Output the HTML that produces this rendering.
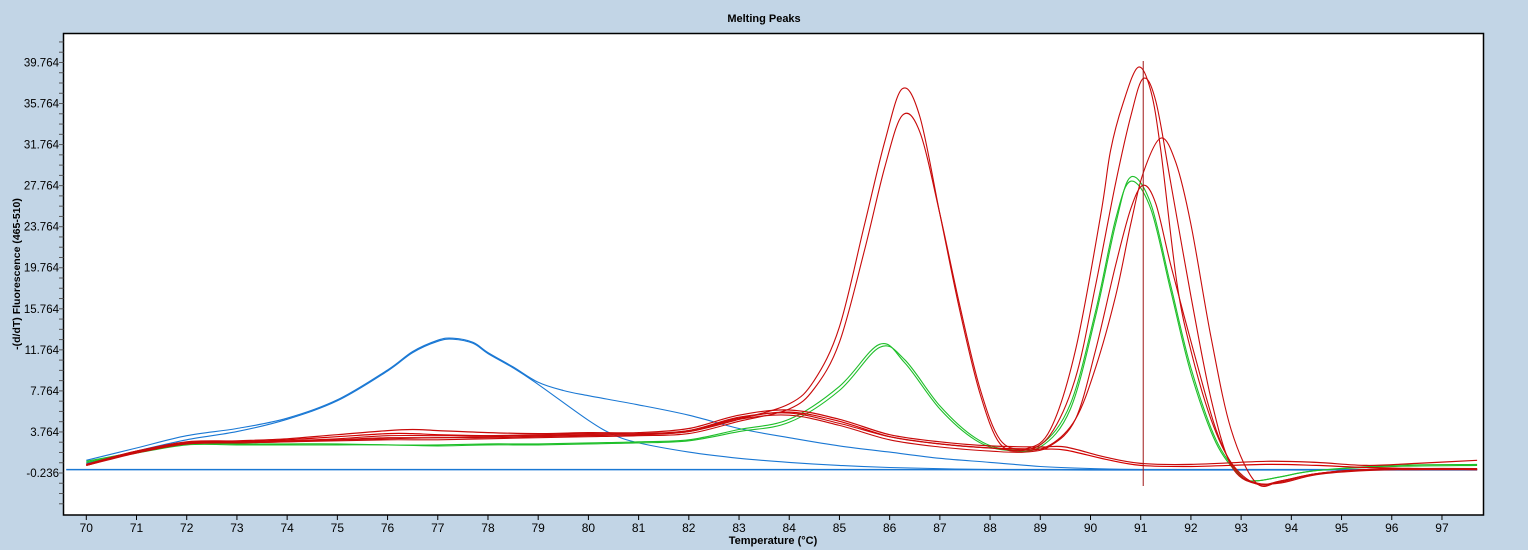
<!DOCTYPE html>
<html><head><meta charset="utf-8">
<style>
html,body{margin:0;padding:0;background:#c2d5e6;}
svg{display:block;font-family:"Liberation Sans",sans-serif;}
</style></head>
<body>
<svg id="chart" width="1528" height="550" viewBox="0 0 1528 550">
<rect x="0" y="0" width="1528" height="550" fill="#c2d5e6"/>
<text x="764" y="22" text-anchor="middle" font-size="11" font-weight="bold">Melting Peaks</text>
<rect x="63.5" y="33.5" width="1420" height="481.5" fill="#fff" stroke="#000" stroke-width="1.5"/>
<g id="ticks"></g>
<g id="series"></g>
<text x="773" y="544" text-anchor="middle" font-size="11" font-weight="bold">Temperature (°C)</text>
<text transform="translate(20,274) rotate(-90)" text-anchor="middle" font-size="10.5" font-weight="bold">-(d/dT) Fluorescence (465-510)</text>
</svg>
<script>
const xTicks=[70,71,72,73,74,75,76,77,78,79,80,81,82,83,84,85,86,87,88,89,90,91,92,93,94,95,96,97];
const yTicks=[-0.236,3.764,7.764,11.764,15.764,19.764,23.764,27.764,31.764,35.764,39.764];
const cursorT=91.05;

const tR1=[70,71,72,73,74,75,76,77,78,79,80,81,82,83,84,84.5,85,85.5,85.9,86.25,86.6,87,87.4,87.8,88.2,88.7,89.2,89.7,90.1,90.5,90.8,91.05,91.3,91.6,92,92.4,92.8,93.3,93.8,94.5,95.5,96.5,97.7];
const vR1=[0.6,1.8,2.7,2.8,2.9,3.0,3.1,3.2,3.2,3.3,3.4,3.5,3.8,5.0,6.5,8.8,14,24,32,37.2,34.5,25,15.5,7.5,2.6,2.0,3.5,9,18,28,34.5,38.2,36,28,17,7,0.5,-1.3,-1.0,-0.3,0.1,0.2,0.2];
const tR2=[70,71,72,73,74,75,76,77,78,79,80,81,82,83,84,84.5,85,85.5,85.9,86.25,86.6,87,87.4,87.8,88.2,88.7,89.2,89.7,90.1,90.5,90.8,91.05,91.4,91.7,92,92.4,92.8,93.3,93.8,94.5,95.5,96.5,97.7];
const vR2=[0.5,1.7,2.6,2.7,2.8,2.9,3.0,3.0,3.1,3.2,3.3,3.4,3.6,4.8,6.0,8.0,12.5,21.5,29.5,34.6,33,25,16,8,3,2.0,2.5,5,10,17,24,29,32.4,30,24,13,4,-1.2,-1.0,-0.3,0.1,0.1,0.2];
const tR3=[70,71,72,73,74,75,76,77,78,79,80,81,82,83,84,85,86,87,88,88.7,89.2,89.7,90.2,90.4,90.65,90.95,91.2,91.4,91.72,92.0,92.4,92.8,93.3,93.8,94.5,95.5,96.5,97.7];
const vR3=[0.6,1.9,2.7,2.8,2.9,3.1,3.4,3.4,3.4,3.5,3.6,3.6,3.9,5.2,5.6,4.6,3.3,2.6,2.2,2.1,4,11.7,24.8,31.2,35.8,39.3,37,31.2,18.3,11.7,5,0.8,-1.3,-1.1,-0.3,0.1,0.1,0.1];
const tR4=[70,71,72,73,74,75,76,77,78,79,80,81,82,83,84,85,86,87,88,88.7,89.2,89.7,90.1,90.5,90.8,91.05,91.3,91.6,92.05,92.5,92.9,93.3,93.8,94.5,95.5,96.5,97.7];
const vR4=[0.5,1.8,2.6,2.7,2.8,3.0,3.2,3.2,3.3,3.4,3.5,3.5,3.8,5.0,5.4,4.4,3.0,2.3,1.9,1.8,2.4,5,11.7,20,25.5,27.8,26,20,11.7,4,0,-1.2,-1.2,-0.4,0.0,0.1,0.1];
const tR5=[70,71,72,73,74,75,76,76.5,77,78,79,80,81,82,83,84,85,86,87,88,89,89.5,90.3,91,92,93.5,94.5,95.5,96.5,97.7];
const vR5=[0.6,1.9,2.8,2.9,3.1,3.5,3.9,4.0,3.9,3.7,3.6,3.7,3.7,4.1,5.4,5.9,5.0,3.5,2.8,2.4,2.3,2.3,1.3,0.7,0.6,0.9,0.8,0.5,0.7,1.0];
const tR6=[70,71,72,73,74,75,76,76.5,77,78,79,80,81,82,83,84,85,86,87,88,89,89.5,90.3,91,92,93.5,94.5,95.5,96.5,97.7];
const vR6=[0.5,1.8,2.7,2.8,3.0,3.3,3.6,3.6,3.5,3.4,3.4,3.5,3.5,3.9,5.1,5.7,4.8,3.3,2.6,2.2,2.1,2.0,1.1,0.5,0.4,0.6,0.5,0.3,0.2,0.1];
const tG1=[70,71,72,73,74,75,76,77,78,79,80,81,82,83,84,85,85.8,86.3,87,87.7,88.3,89,89.6,90.1,90.5,90.8,91.2,91.6,92,92.5,93,93.3,93.8,94.5,96,97.7];
const vG1=[0.9,1.8,2.6,2.6,2.6,2.6,2.5,2.5,2.6,2.6,2.7,2.8,3.0,4.0,5.0,8.2,12.3,10.5,6,3,2.0,2.3,6,15,24,28.6,26,18,10,3,-0.5,-1.0,-0.6,0.0,0.5,0.6];
const tG2=[70,71,72,73,74,75,76,77,78,79,80,81,82,83,84,85,85.8,86.3,87,87.7,88.3,89,89.6,90.1,90.5,90.8,91.2,91.6,92,92.5,93,93.3,93.8,94.5,96,97.7];
const vG2=[0.8,1.7,2.5,2.5,2.5,2.5,2.5,2.4,2.5,2.5,2.6,2.7,2.9,3.8,4.7,7.8,12.0,10.8,6.3,3.2,2.1,2.5,6.5,15.5,24.5,28.2,25.5,17.5,9.5,2.7,-0.6,-1.0,-0.6,0.0,0.4,0.5];
const tB1=[70,71,72,73,74,75,76,76.5,77,77.3,77.7,78,78.5,79,79.5,80,81,82,83,84,85,86,87,88,89,90,91,93,95,97.7];
const vB1=[1.0,2.2,3.4,4.1,5.1,6.9,9.8,11.6,12.7,12.9,12.5,11.5,10.1,8.6,7.8,7.3,6.4,5.4,4.1,3.2,2.4,1.8,1.2,0.8,0.4,0.2,0.1,0.1,0.1,0.1];
const tB2=[70,71,72,73,74,75,76,76.5,77,77.3,77.7,78,78.5,79,80,80.5,81,82,83,84,85,86,88,90,93,97.7];
const vB2=[0.7,1.9,3.0,3.8,5.0,6.8,9.7,11.5,12.6,12.8,12.4,11.4,10.0,8.4,4.9,3.5,2.7,1.8,1.2,0.8,0.5,0.3,0.1,0.05,0.05,0.05];
const tFlat=[69.6,97.7];
const vFlat=[0.1,0.1];

const X0=86.3, XS=50.21, Y0=473, YS=10.263;
function xScale(t){return X0+(t-70)*XS;}
function yScale(v){return Y0-(v+0.236)*YS;}
const NS='http://www.w3.org/2000/svg';

const tg=document.getElementById('ticks');
xTicks.forEach(t=>{
  const x=xScale(t);
  const l=document.createElementNS(NS,'line');
  l.setAttribute('x1',x);l.setAttribute('x2',x);l.setAttribute('y1',515);l.setAttribute('y2',520);
  l.setAttribute('stroke','#000');
  
  
  tg.appendChild(l);
  const tx=document.createElementNS(NS,'text');
  tx.setAttribute('x',x);tx.setAttribute('y',532);tx.setAttribute('text-anchor','middle');tx.setAttribute('font-size','12');
  tx.textContent=t;
  
  
  tg.appendChild(tx);
});
for(let v=-4.236; v<=41.8; v+=1){
  const y=yScale(v);
  if(y<34||y>514) continue;
  const l=document.createElementNS(NS,'line');
  l.setAttribute('x1',59);l.setAttribute('x2',63.5);l.setAttribute('y1',y);l.setAttribute('y2',y);
  l.setAttribute('stroke','#555');
  
  
  tg.appendChild(l);
}
yTicks.forEach(v=>{
  const y=yScale(v);
  const tx=document.createElementNS(NS,'text');
  tx.setAttribute('x',59);tx.setAttribute('y',y+4);tx.setAttribute('text-anchor','end');tx.setAttribute('font-size','11.5');
  tx.textContent=v.toFixed(3);
  
  
  tg.appendChild(tx);
});

function pathFor(ts,vs){
  const p=ts.map((t,i)=>[xScale(t),yScale(vs[i])]);
  let d='M'+p[0][0].toFixed(1)+','+p[0][1].toFixed(1);
  for(let i=0;i<p.length-1;i++){
    const p0=p[i-1]||p[i],p1=p[i],p2=p[i+1],p3=p[i+2]||p[i+1];
    const c1=[p1[0]+(p2[0]-p0[0])/6,p1[1]+(p2[1]-p0[1])/6];
    const c2=[p2[0]-(p3[0]-p1[0])/6,p2[1]-(p3[1]-p1[1])/6];
    d+='C'+c1[0].toFixed(1)+','+c1[1].toFixed(1)+' '+c2[0].toFixed(1)+','+c2[1].toFixed(1)+' '+p2[0].toFixed(1)+','+p2[1].toFixed(1);
  }
  return d;
}
const sg=document.getElementById('series');
function addSeries(ts,vs,color,w,name){
  const p=document.createElementNS(NS,'path');
  p.setAttribute('d',pathFor(ts,vs));
  p.setAttribute('fill','none');p.setAttribute('stroke',color);p.setAttribute('stroke-width',w);
  
  
  sg.appendChild(p);
}
addSeries(tFlat,vFlat,'#1a78d4',1.5,'baseline-blue-curve');
addSeries(tB1,vB1,'#1a78d4',1.1,'blue-curve-1');
addSeries(tB2,vB2,'#1a78d4',1.1,'blue-curve-2');
addSeries(tG1,vG1,'#1fbf2a',1.1,'green-curve-1');
addSeries(tG2,vG2,'#1fbf2a',1.1,'green-curve-2');
addSeries(tR5,vR5,'#c80a0a',1.2,'red-curve-5');
addSeries(tR6,vR6,'#d40000',1.2,'red-curve-6');
addSeries(tR3,vR3,'#c80a0a',1.1,'red-curve-3');
addSeries(tR4,vR4,'#c80a0a',1.1,'red-curve-4');
addSeries(tR1,vR1,'#c80a0a',1.1,'red-curve-1');
addSeries(tR2,vR2,'#c80a0a',1.1,'red-curve-2');

const cl=document.createElementNS(NS,'line');
const cx=xScale(cursorT);
cl.setAttribute('x1',cx);cl.setAttribute('x2',cx);cl.setAttribute('y1',61);cl.setAttribute('y2',486);
cl.setAttribute('stroke','#a01818');cl.setAttribute('stroke-width','1');


sg.appendChild(cl);
</script>
</body></html>
